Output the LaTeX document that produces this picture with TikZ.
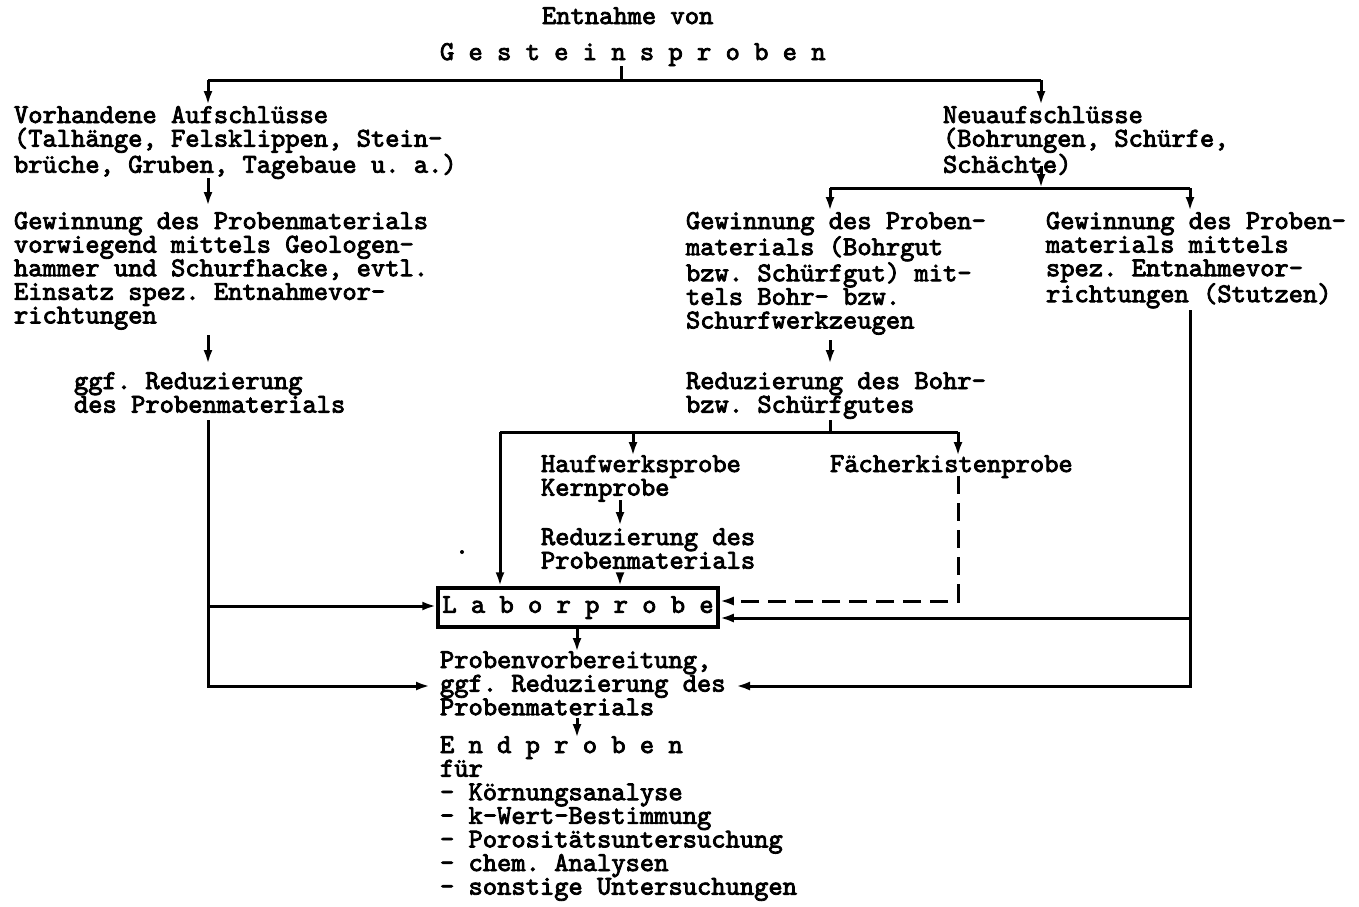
\documentclass[tikz,border=0pt]{standalone}
\usepackage{fontspec}
\newfontfamily\tw{lmmono10-regular.otf}[FakeBold=3]
\usetikzlibrary{arrows.meta}
\newcommand\ts{\rule{0pt}{22pt}}
\begin{document}
\frenchspacing
\begin{tikzpicture}[x=1pt,y=-1pt,
  txt/.style={anchor=north west,inner sep=0pt,outer sep=0pt,align=left,
              font={\tw\fontsize{27.2pt}{23.6pt}\selectfont\frenchspacing}},
  ln/.style={line width=3pt},
  arr/.style={ln,-{Latex[length=14pt,width=9pt]}},
  dsh/.style={ln,dash pattern=on 18pt off 9pt,-{Latex[length=14pt,width=9pt]}},
  boxnode/.style={draw,line width=3.5pt,inner sep=0pt,minimum width=280pt,minimum height=39pt,
              font={\tw\fontsize{27.2pt}{23.6pt}\selectfont\frenchspacing}}
]
\fill[white] (0,0) rectangle (1359,906);
\useasboundingbox (0,0) rectangle (1359,906);

% texts
\node[txt] (entn) at (542,2) {\ts Entnahme von};
\node[txt] (gest) at (440,38) {\ts G e s t e i n s p r o b e n};
\node[txt] (vorh) at (14,101) {\ts Vorhandene Aufschlüsse\\(Talhänge, Felsklippen, Stein-\\brüche, Gruben, Tagebaue u. a.)};
\node[txt] (gew1) at (14,207) {\ts Gewinnung des Probenmaterials\\vorwiegend mittels Geologen-\\hammer und Schurfhacke, evtl.\\Einsatz spez. Entnahmevor-\\richtungen};
\node[txt] (ggf1) at (74,367) {\ts ggf. Reduzierung\\des Probenmaterials};
\node[txt] (neu) at (943,101) {\ts Neuaufschlüsse\\(Bohrungen, Schürfe,\\Schächte)};
\node[txt] (gew2) at (686,207) {\ts Gewinnung des Proben-\\materials (Bohrgut\\bzw. Schürfgut) mit-\\tels Bohr- bzw.\\Schurfwerkzeugen};
\node[txt] (gew3) at (1046,207) {\ts Gewinnung des Proben-\\materials mittels\\spez. Entnahmevor-\\richtungen (Stutzen)};
\node[txt] (red2) at (686,367) {\ts Reduzierung des Bohr-\\bzw. Schürfgutes};
\node[txt] (hauf) at (541,450) {\ts Haufwerksprobe\\Kernprobe};
\node[txt] (faech) at (830,450) {\ts Fächerkistenprobe};
\node[txt] (red3) at (541,523) {\ts Reduzierung des\\Probenmaterials};
\node[boxnode] (labor) at (578,607.5) {L a b o r p r o b e};
\node[txt] (prob) at (440,646) {\ts Probenvorbereitung,\\ggf. Reduzierung des\\Probenmaterials};
\node[txt] (endp) at (440,731) {\ts E n d p r o b e n\\für\\- Körnungsanalyse\\- k-Wert-Bestimmung\\- Porositätsuntersuchung\\- chem. Analysen\\- sonstige Untersuchungen};
\fill (462,552) circle (2pt);

% coordinates
\coordinate (t0) at (621,66);
\coordinate (t1) at (621,80);
\coordinate (hL) at (208,80);
\coordinate (hR) at (1041,80);
\coordinate (aL) at (208,105);
\coordinate (aR) at (1041,105);
\coordinate (b1) at (208,178);
\coordinate (b2) at (208,206);
\coordinate (c1) at (208,335);
\coordinate (c2) at (208,364);
\coordinate (d1) at (208,420);
\coordinate (d2) at (208,686);
\coordinate (dm) at (208,606);
\coordinate (pL) at (430,686);
\coordinate (n1) at (1041,166);
\coordinate (n2) at (1041,188);
\coordinate (nL) at (830,188);
\coordinate (nR) at (1190,188);
\coordinate (nLa) at (830,211);
\coordinate (nRa) at (1190,211);
\coordinate (e1) at (830,340);
\coordinate (e2) at (830,364);
\coordinate (f1) at (830,420);
\coordinate (f2) at (830,432);
\coordinate (fL) at (500,432);
\coordinate (fH) at (633,432);
\coordinate (fR) at (958,432);
\coordinate (fHa) at (633,456);
\coordinate (fRa) at (958,456);
\coordinate (g1) at (620,500);
\coordinate (g2) at (620,526);
\coordinate (h1) at (620,574);
\coordinate (k1) at (958,476);
\coordinate (k2) at (958,601);
\coordinate (r1) at (1190,310);
\coordinate (r2) at (1190,686);
\coordinate (rm) at (1190,618);
\coordinate (pR) at (736,686);
\coordinate (m1) at (577,718);
\coordinate (m2) at (577,738);

% connectors
\draw[ln] (t0) -- (t1);
\draw[ln] (hL) -- (hR);
\draw[arr] (hL) -- (aL);
\draw[arr] (hR) -- (aR);
\draw[arr] (b1) -- (b2);
\draw[arr] (c1) -- (c2);
\draw[arr] (d1) -- (d2) -- (pL);
\draw[arr] (dm) -- (labor.west |- dm);
\draw[arr] (n1) -- (n2);
\draw[ln] (nL) -- (nR);
\draw[arr] (nL) -- (nLa);
\draw[arr] (nR) -- (nRa);
\draw[arr] (e1) -- (e2);
\draw[ln] (f1) -- (f2);
\draw[ln] (fL) -- (fR);
\draw[arr] (fL) -- (labor.north -| fL);
\draw[arr] (fH) -- (fHa);
\draw[arr] (fR) -- (fRa);
\draw[arr] (g1) -- (g2);
\draw[arr] (h1) -- (labor.north -| h1);
\draw[dsh] (k1) -- (k2) -- (labor.east |- k2);
\draw[arr] (r1) -- (r2) -- (pR);
\draw[arr] (rm) -- (labor.east |- rm);
\draw[arr] (labor.south -| m1) -- (577,652);
\draw[arr] (m1) -- (m2);
\end{tikzpicture}
\end{document}
